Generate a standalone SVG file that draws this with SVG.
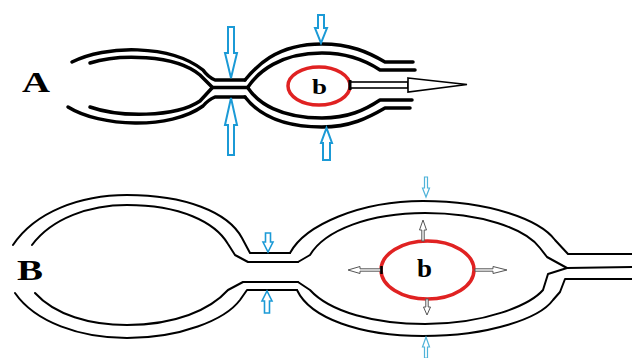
<svg xmlns="http://www.w3.org/2000/svg" width="632" height="358" viewBox="0 0 632 358">
  <style>
    .wallA { fill: none; stroke: #000; stroke-width: 3.5; stroke-linejoin: round; stroke-linecap: round; }
    .wallB { fill: none; stroke: #000; stroke-width: 2; stroke-linejoin: round; stroke-linecap: round; }
    .cell { fill: none; stroke: #e02222; }
    .label { font-family: "Liberation Serif", "Times New Roman", serif; font-weight: bold; fill: #000; }
    .pressA { fill: #fff; stroke: #1b9ad6; stroke-width: 2; stroke-linejoin: miter; }
    .pressB { fill: #fff; stroke: #1b9ad6; stroke-width: 1.6; }
    .pressB2 { fill: #fff; stroke: #4fb3d9; stroke-width: 1.2; }
    .expand { fill: #fff; stroke: #555; stroke-width: 1; }
  </style>

  <!-- Panel A: vessel pinched at the neck, cell pushed out -->
  <g id="labelA">
    <text class="label" x="22" y="92" font-size="30" textLength="28" lengthAdjust="spacingAndGlyphs">A</text>
  </g>

  <g id="vesselA">
    <!-- left lobe -->
    <path class="wallA" d="M72,62 C105,45 170,44 203,70 Q208,77 215,80 L245,80"/>
    <path class="wallA" d="M90,63 C118,54 175,54 200,75 L212,87"/>
    <path class="wallA" d="M90,107 C118,117 175,118 200,101 L212,88"/>
    <path class="wallA" d="M68,107 C100,127 170,130 203,106 Q208,100 215,97 L245,97"/>
    <path class="wallA" d="M212,87.5 L248,87.5"/>
    <!-- right lobe with outlet -->
    <path class="wallA" d="M245,80 C255,68 275,44 322,44 C350,44 368,52 385,62 L413,62"/>
    <path class="wallA" d="M248,87 C258,72 280,53 322,53 C348,53 365,60 380,70 L415,70"/>
    <path class="wallA" d="M248,88 C258,103 280,118 322,118 C348,118 365,110 380,100 L412,100"/>
    <path class="wallA" d="M245,97 C255,110 275,127 322,127 C350,127 368,118 385,108 L410,108"/>
  </g>

  <g id="cellA">
    <ellipse class="cell" cx="319" cy="86" rx="31" ry="19" stroke-width="3.5"/>
    <text class="label" x="312" y="93.5" font-size="22" textLength="15" lengthAdjust="spacingAndGlyphs">b</text>
  </g>

  <!-- Panel B: vessel with open neck, cell expanding -->
  <g id="labelB">
    <text class="label" x="17" y="280" font-size="30" textLength="26" lengthAdjust="spacingAndGlyphs">B</text>
  </g>

  <g id="vesselB">
    <!-- left lobe -->
    <path class="wallB" d="M13,245 C35,212 80,195 127,195 C185,195 228,212 242,238 L250,253 L290,253"/>
    <path class="wallB" d="M32,245 C52,218 90,205 127,205 C180,205 215,222 228,244 L235,255 L248,262 L298,262"/>
    <path class="wallB" d="M35,293 C55,315 90,325 127,325 C175,325 210,310 228,290 L243,282 L298,282"/>
    <path class="wallB" d="M15,293 C35,322 80,338 127,338 C180,338 225,320 240,300 L247,290 L297,290"/>
    <!-- right lobe with outlet -->
    <path class="wallB" d="M290,253 C305,225 360,201 423,201 C490,201 540,220 555,240 L568,254 L632,254"/>
    <path class="wallB" d="M298,262 L310,255 C325,230 370,213 425,213 C480,213 525,228 540,248 L547,257 L567,268"/>
    <path class="wallB" d="M567,268 L632,267"/>
    <path class="wallB" d="M298,282 L310,290 C330,312 375,324 425,324 C485,324 530,305 543,290 L548,274 L567,268"/>
    <path class="wallB" d="M297,290 C310,318 360,336 423,336 C490,336 540,318 553,300 L560,292 L565,279 L632,279"/>
  </g>

  <g id="cellB">
    <ellipse class="cell" cx="427.5" cy="270" rx="46.5" ry="29" stroke-width="3.5"/>
    <text class="label" x="417" y="277" font-size="25" textLength="15" lengthAdjust="spacingAndGlyphs">b</text>
  </g>

  <g id="connectors">
    <!-- A: cell squeezed out through the outlet -->
    <rect x="350" y="82" width="58" height="6" fill="#fff" stroke="#000" stroke-width="1.6"/>
    <polygon points="408,78 467,84.5 408,92" fill="#fff" stroke="#000" stroke-width="1.6" stroke-linejoin="miter"/>
    <line x1="350" y1="80" x2="350" y2="90" stroke="#000" stroke-width="3"/>

    <!-- A: compression arrows -->
    <polygon class="pressA" points="228,27 234,27 234,53 237,53 231,78 225,53 228,53"/>
    <polygon class="pressA" points="228,155 234,155 234,125 237,125 231,98 225,125 228,125"/>
    <polygon class="pressA" points="318,15 324,15 324,28 327,28 321,43 315,28 318,28"/>
    <polygon class="pressA" points="323,160 330,160 330,143 332,143 326.5,128 321,143 323,143"/>

    <!-- B: compression arrows at the neck and on the right lobe -->
    <polygon class="pressB" points="265.5,233 270.5,233 270.5,242 273,242 268,252 263,242 265.5,242"/>
    <polygon class="pressB" points="264.5,313 269.5,313 269.5,301 272,301 267,291 262,301 264.5,301"/>
    <polygon class="pressB2" points="424.5,177 427.5,177 427.5,188 429.5,188 426,197 422.5,188 424.5,188"/>
    <polygon class="pressB2" points="424.5,358 427.5,358 427.5,347 429.5,347 426,337 422.5,347 424.5,347"/>

    <!-- B: cell expansion arrows -->
    <polygon class="expand" points="421.8,241 424.2,241 424.2,230 426.5,230 423,220 419.5,230 421.8,230"/>
    <polygon class="expand" points="425.8,299 428.2,299 428.2,307 430.5,307 427,315 423.5,307 425.8,307"/>
    <polygon class="expand" points="381,268.8 381,271.2 360,271.2 360,273.5 348,270 360,266.5 360,268.8"/>
    <polygon class="expand" points="475,268.8 475,271.2 493,271.2 493,273.5 507,270 493,266.5 493,268.8"/>
    <line x1="381.5" y1="266" x2="381.5" y2="274" stroke="#000" stroke-width="2.5"/>
  </g>
</svg>
